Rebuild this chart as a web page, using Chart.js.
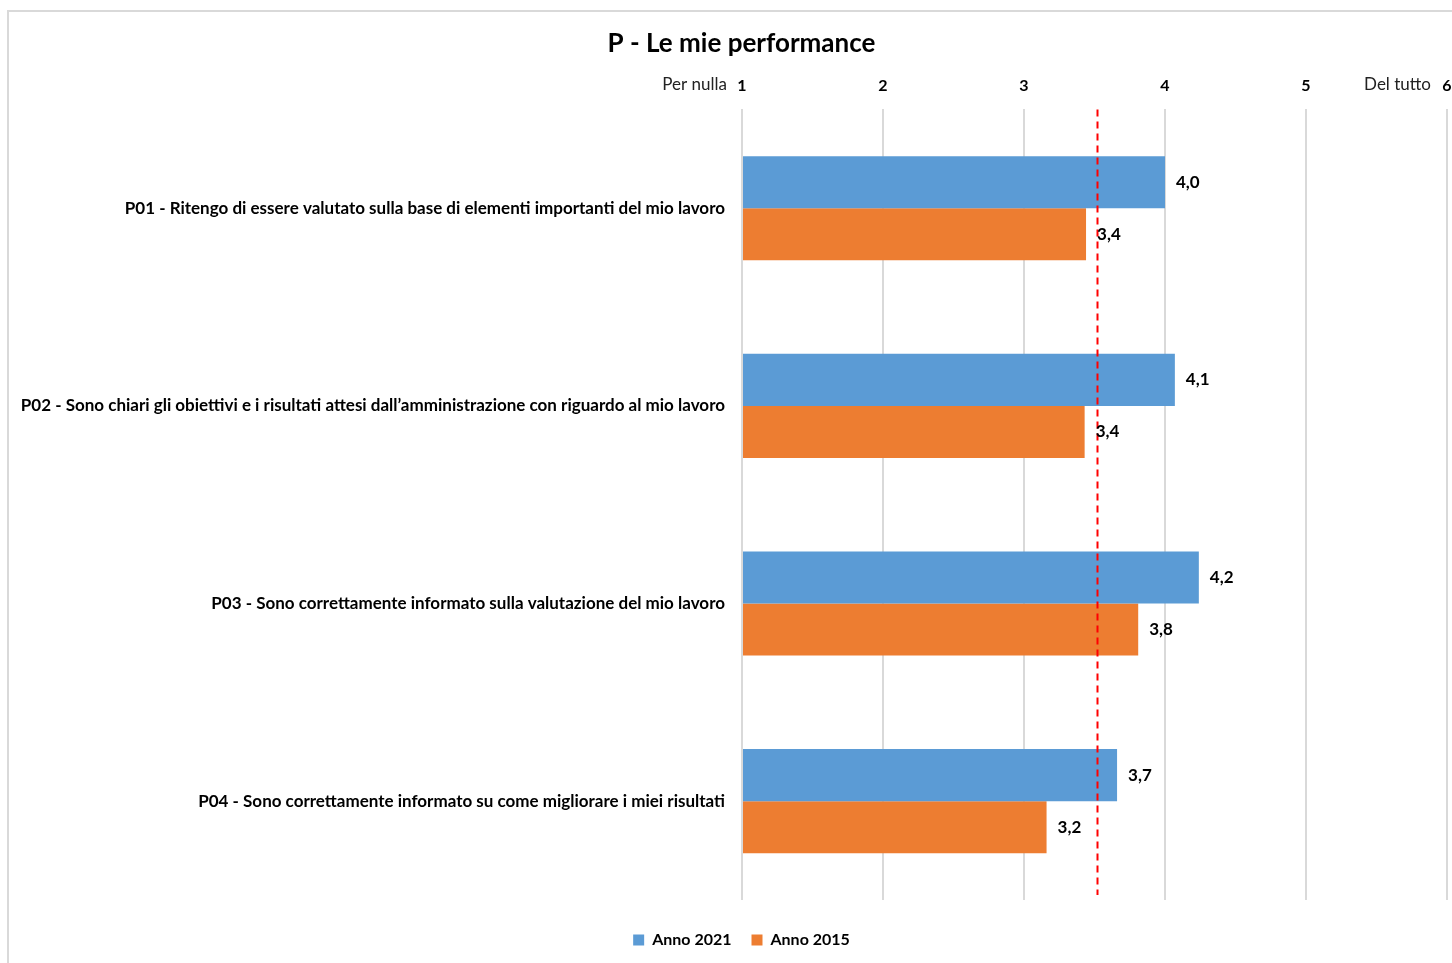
<!DOCTYPE html>
<html>
<head>
<meta charset="utf-8">
<script src="https://cdn.jsdelivr.net/npm/chart.js@4.4.0/dist/chart.umd.min.js"></script>
<style>
html,body{margin:0;padding:0;background:#fff;}
#wrap{width:1452px;height:963px;position:relative;}
</style>
</head>
<body>
<div id="wrap"><canvas id="c" width="1452" height="963"></canvas></div>
<script>
const categories = [
  "P01 - Ritengo di essere valutato sulla base di elementi importanti del mio lavoro",
  "P02 - Sono chiari gli obiettivi e i risultati attesi dall\u2019amministrazione con riguardo al mio lavoro",
  "P03 - Sono correttamente informato sulla valutazione del mio lavoro",
  "P04 - Sono correttamente informato su come migliorare i miei risultati"
];
const seriesNames = ["Anno 2021", "Anno 2015"];
const values2021 = [4.00, 4.07, 4.24, 3.66];
const values2015 = [3.44, 3.43, 3.81, 3.16];
const referenceValue = 3.52;
const axisMin = 1, axisMax = 6;
const axisEndLabels = ["Per nulla", "Del tutto"];
const chartTitle = "P - Le mie performance";

const FONT = "Lato, 'Open Sans', sans-serif";
const fmt = v => v.toFixed(1).replace('.', ',');

const extrasPlugin = {
  id: 'extras',
  afterLayout(chart) {
    // center title and legend over the framed area (frame starts at x=8)
    if (chart.titleBlock) chart.titleBlock.left = 36;
    if (chart.legend) chart.legend.left = 36;
  },
  beforeDraw(chart) {
    const ctx = chart.ctx;
    ctx.save();
    ctx.strokeStyle = '#d9d9d9';
    ctx.lineWidth = 2;
    ctx.strokeRect(8, 11, 1600, 1100);
    ctx.restore();
  },
  afterDatasetsDraw(chart) {
    const ctx = chart.ctx;
    const xs = chart.scales.x;
    const area = chart.chartArea;
    ctx.save();
    // reference dashed line
    const rx = Math.round(xs.getPixelForValue(referenceValue)) + 0.5;
    ctx.strokeStyle = '#ff0000';
    ctx.lineWidth = 2;
    ctx.setLineDash([7, 5]);
    ctx.beginPath();
    ctx.moveTo(rx, area.top);
    ctx.lineTo(rx, area.bottom - 5);
    ctx.stroke();
    ctx.setLineDash([]);
    // data labels
    ctx.fillStyle = '#000';
    ctx.font = "bold 17px " + FONT;
    ctx.textAlign = 'left';
    ctx.textBaseline = 'middle';
    chart.data.datasets.forEach((ds, di) => {
      const meta = chart.getDatasetMeta(di);
      meta.data.forEach((bar, i) => {
        ctx.fillText(fmt(ds.data[i]), bar.x + 11, bar.y);
      });
    });
    // axis end labels
    ctx.font = "17px " + FONT;
    ctx.textAlign = 'right';
    ctx.fillStyle = '#222';
    const ty = 85;
    ctx.fillText(axisEndLabels[0], xs.getPixelForValue(axisMin) - 15, ty);
    ctx.fillText(axisEndLabels[1], xs.getPixelForValue(axisMax) - 16, ty);
    ctx.restore();
  }
};

new Chart(document.getElementById('c'), {
  type: 'bar',
  data: {
    labels: categories,
    datasets: [
      { label: seriesNames[0], data: values2021, backgroundColor: '#5B9BD5' },
      { label: seriesNames[1], data: values2015, backgroundColor: '#ED7D31' }
    ]
  },
  options: {
    indexAxis: 'y',
    responsive: false,
    animation: false,
    devicePixelRatio: 1,
    layout: { padding: { left: 0, right: 5, top: 0, bottom: 5 } },
    datasets: { bar: { barPercentage: 1.0, categoryPercentage: 0.527, base: axisMin } },
    scales: {
      x: {
        position: 'top',
        min: axisMin, max: axisMax,
        ticks: { stepSize: 1, color: '#000', font: { family: FONT, size: 16, weight: 'bold' }, padding: 14 },
        grid: { color: '#d9d9d9', lineWidth: 2, drawTicks: false },
        border: { display: false },
        afterFit(s) { s.height = 45.2; s.paddingLeft = 0; s.paddingRight = 0; }
      },
      y: {
        ticks: { color: '#000', font: { family: FONT, size: 17, weight: 'bold' }, padding: 17 },
        grid: { display: false, drawTicks: false },
        border: { display: false },
        afterFit(s) { s.width = 742; s.paddingTop = 0; s.paddingBottom = 0; }
      }
    },
    plugins: {
      title: {
        display: true, text: chartTitle, color: '#000',
        font: { family: FONT, size: 26, weight: 'bold' },
        padding: { top: 28, bottom: 5 }
      },
      legend: {
        position: 'bottom',
        title: { display: true, text: '', font: { size: 10 }, padding: { top: 0, bottom: 0 } },
        labels: { boxWidth: 11, boxHeight: 11, color: '#000', font: { family: FONT, size: 16, weight: 'bold' }, padding: 20 }
      },
      tooltip: { enabled: false }
    }
  },
  plugins: [extrasPlugin]
});
</script>
</body>
</html>
